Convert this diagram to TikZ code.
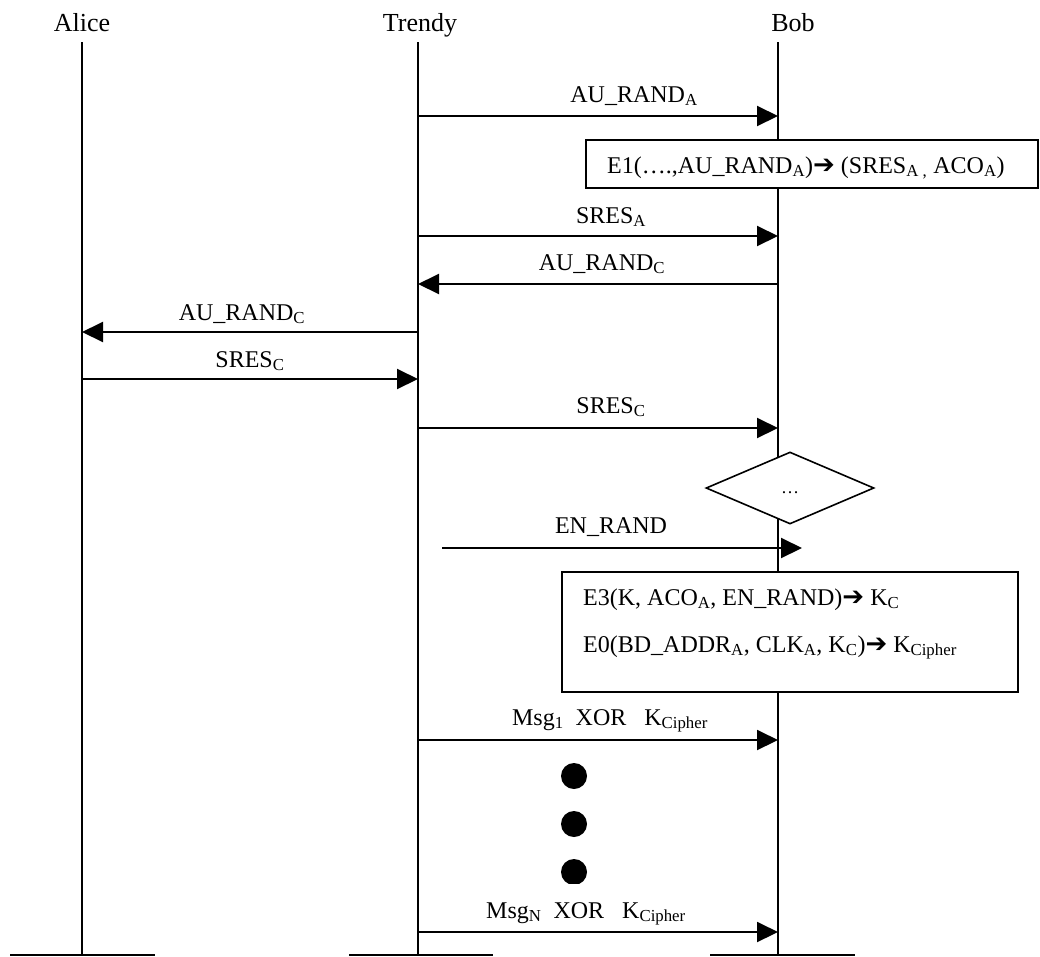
\documentclass[tikz,border=0pt]{standalone}
\usepackage{fontspec}
\setmainfont{Liberation Serif}
\newfontfamily\arrowfont{DejaVu Sans}
\usetikzlibrary{arrows.meta,shapes.geometric}
\newcommand{\harr}{{\arrowfont\bfseries\fontsize{26}{26}\selectfont ➔}}
\begin{document}
\begin{tikzpicture}[x=1pt,y=-1pt,
  life/.style={line width=1.6pt},
  msgarrow/.style={line width=2pt,-{Triangle[length=21pt,width=20pt]}},
  lbl/.style={font=\fontsize{24}{28}\selectfont, anchor=base, inner sep=0pt},
  boxtext/.style={font=\fontsize{24}{28}\selectfont, anchor=base west, inner sep=0pt},
  head/.style={font=\fontsize{26}{30}\selectfont, anchor=base, inner sep=0pt},
  calcbox/.style={draw, line width=1.6pt, fill=white, inner sep=0pt},
  bigdot/.style={fill=black, circle, inner sep=0pt, minimum size=26pt}
  ]
\useasboundingbox (0,0) rectangle (1040,956);
% headers
\node[head] (alice) at (82,31) {Alice};
\node[head] (trendy) at (420,31) {Trendy};
\node[head] (bob) at (793,31) {Bob};
% lifelines
\coordinate (aTop) at (82,42);  \coordinate (aBot) at (82,956);
\coordinate (tTop) at (418,42); \coordinate (tBot) at (418,956);
\coordinate (bTop) at (778,42); \coordinate (bBot) at (778,956);
\draw[life] (aTop) -- (aBot);
\draw[life] (tTop) -- (tBot);
\draw[life] (bTop) -- (bBot);
% feet
\coordinate (aFL) at (10,955);  \coordinate (aFR) at (155,955);
\coordinate (tFL) at (349,955); \coordinate (tFR) at (493,955);
\coordinate (bFL) at (710,955); \coordinate (bFR) at (855,955);
\draw[life] (aFL) -- (aFR);
\draw[life] (tFL) -- (tFR);
\draw[life] (bFL) -- (bFR);
% message 1
\coordinate (t1) at (418,116); \coordinate (b1) at (778,116);
\draw[msgarrow] (t1) -- (b1);
\node[lbl] (m1) at (634,102) {AU\_RAND\textsubscript{A}};
% E1 box
\node[calcbox, minimum width=452pt, minimum height=48pt] (e1box) at (812,164) {};
\node[boxtext] (e1) at (607,173) {E1(….,AU\_RAND\textsubscript{A})\harr{} (SRES\textsubscript{A ,} ACO\textsubscript{A})};
% message 2
\coordinate (t2) at (418,236); \coordinate (b2) at (778,236);
\draw[msgarrow] (t2) -- (b2);
\node[lbl] (m2) at (611,223) {SRES\textsubscript{A}};
% message 3
\coordinate (b3) at (778,284); \coordinate (t3) at (418,284);
\draw[msgarrow] (b3) -- (t3);
\node[lbl] (m3) at (602,270) {AU\_RAND\textsubscript{C}};
% message 4
\coordinate (t4) at (418,332); \coordinate (a4) at (82,332);
\draw[msgarrow] (t4) -- (a4);
\node[lbl] (m4) at (242,320) {AU\_RAND\textsubscript{C}};
% message 5
\coordinate (a5) at (82,379); \coordinate (t5) at (418,379);
\draw[msgarrow] (a5) -- (t5);
\node[lbl] (m5) at (250,367) {SRES\textsubscript{C}};
% message 6
\coordinate (t6) at (418,428); \coordinate (b6) at (778,428);
\draw[msgarrow] (t6) -- (b6);
\node[lbl] (m6) at (611,413) {SRES\textsubscript{C}};
% diamond
\node[diamond, draw, line width=1.6pt, fill=white, inner sep=0pt,
      minimum width=168pt, minimum height=72pt] (dec) at (790,488) {};
\node[font=\fontsize{18}{18}\selectfont, inner sep=0pt] (decdots) at (790,493) {…};
% EN_RAND
\coordinate (enS) at (442,548); \coordinate (enE) at (802,548);
\draw[msgarrow] (enS) -- (enE);
\node[lbl] (m7) at (611,533) {EN\_RAND};
% E3/E0 box
\node[calcbox, minimum width=456pt, minimum height=120pt] (e3box) at (790,632) {};
\node[boxtext] (e3) at (583,605) {E3(K, ACO\textsubscript{A}, EN\_RAND)\harr{} K\textsubscript{C}};
\node[boxtext] (e0) at (583,652) {E0(BD\_ADDR\textsubscript{A}, CLK\textsubscript{A}, K\textsubscript{C})\harr{} K\textsubscript{Cipher}};
% Msg1
\coordinate (t8) at (418,740); \coordinate (b8) at (778,740);
\draw[msgarrow] (t8) -- (b8);
\node[lbl] (m8) at (610,725) {Msg\textsubscript{1}\ \ XOR\ \ \ K\textsubscript{Cipher}};
% dots
\node[bigdot] (d1) at (574,776) {};
\node[bigdot] (d2) at (574,824) {};
\begin{scope}
\clip (540,850) rectangle (610,883);
\node[bigdot] (d3) at (574,872) {};
\end{scope}
% MsgN
\coordinate (t9) at (418,932); \coordinate (b9) at (778,932);
\draw[msgarrow] (t9) -- (b9);
\node[lbl] (m9) at (586,918) {Msg\textsubscript{N}\ \ XOR\ \ \ K\textsubscript{Cipher}};
\end{tikzpicture}
\end{document}
